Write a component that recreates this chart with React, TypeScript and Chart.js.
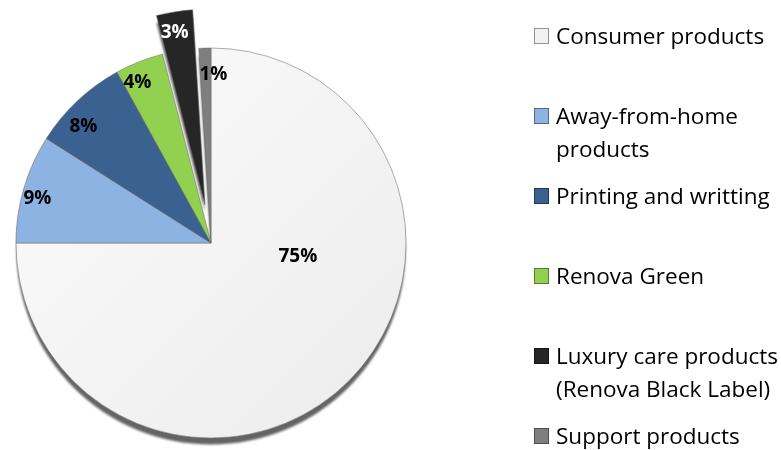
import React, { useEffect, useRef } from "react";
import { Chart, registerables } from "chart.js";

Chart.register(...registerables);

// ---- data ----
const categories = [
  "Consumer products",
  "Away-from-home products",
  "Printing and writting",
  "Renova Green",
  "Luxury care products (Renova Black Label)",
  "Support products",
];
const legendLines = [
  ["Consumer products"],
  ["Away-from-home", "products"],
  ["Printing and writting"],
  ["Renova Green"],
  ["Luxury care products", "(Renova Black Label)"],
  ["Support products"],
];
const shares = [75, 9, 8, 4, 3, 1];
const percentLabels = ["75%", "9%", "8%", "4%", "3%", "1%"];

// ---- style ----
const colors = ["#f2f2f2", "#8db3e2", "#3b6191", "#92d050", "#262626", "#7f7f7f"];
const labelColors = ["#000", "#000", "#000", "#000", "#fff", "#000"];
const labelRadius = [0.45, 0.92, 0.89, 0.91, 0.9, 0.87];
const labelAngleShift = [-37, -1.6, -4.1, -2.9, -0.9, 2.6];
const EXPLODE_INDEX = 4;
const EXPLODE_DIST = 39;
const SHADOW_DY = 7;
const LEGEND_X = 534;
const LEGEND_TOP = 28;
const LEGEND_STEP = 80;
const LEGEND_LINE = 33;
const FONT = "'Open Sans', 'Noto Sans', sans-serif";

const pieExtras = {
  id: "pieExtras",
  afterDatasetUpdate(chart: any, args: any) {
    const el: any = args.meta.data[EXPLODE_INDEX];
    if (!el) return;
    const mid = (el.startAngle + el.endAngle) / 2;
    el.x += Math.cos(mid) * EXPLODE_DIST;
    el.y += Math.sin(mid) * EXPLODE_DIST;
  },
  beforeDatasetsDraw(chart: any) {
    const ctx = chart.ctx;
    const meta = chart.getDatasetMeta(0);
    ctx.save();
    ctx.fillStyle = "rgba(100,100,100,1)";
    ctx.filter = "blur(0.8px)";
    meta.data.forEach((el: any) => {
      ctx.beginPath();
      ctx.moveTo(el.x, el.y + SHADOW_DY);
      ctx.arc(el.x, el.y + SHADOW_DY, el.outerRadius - 0.5, el.startAngle, el.endAngle);
      ctx.closePath();
      ctx.fill();
    });
    ctx.restore();
  },
  afterDraw(chart: any) {
    const ctx = chart.ctx;
    const meta = chart.getDatasetMeta(0);
    ctx.save();
    // percentage labels
    ctx.font = `bold 19px ${FONT}`;
    ctx.textAlign = "center";
    ctx.textBaseline = "middle";
    meta.data.forEach((el: any, i: number) => {
      const mid = (el.startAngle + el.endAngle) / 2 + (labelAngleShift[i] * Math.PI) / 180;
      const r = el.outerRadius * labelRadius[i];
      ctx.fillStyle = labelColors[i];
      ctx.fillText(percentLabels[i], el.x + Math.cos(mid) * r, el.y + Math.sin(mid) * r + 1);
    });
    // legend
    ctx.font = `22.5px ${FONT}`;
    ctx.textAlign = "left";
    ctx.textBaseline = "alphabetic";
    legendLines.forEach((lines, i) => {
      const top = LEGEND_TOP + i * LEGEND_STEP;
      ctx.fillStyle = colors[i];
      ctx.fillRect(LEGEND_X, top, 15, 16);
      ctx.strokeStyle = "rgba(0,0,0,0.4)";
      ctx.lineWidth = 1;
      ctx.strokeRect(LEGEND_X + 0.5, top + 0.5, 14, 15);
      ctx.fillStyle = "#000";
      lines.forEach((t, j) => {
        ctx.fillText(t, LEGEND_X + 22, top + 16 + j * LEGEND_LINE);
      });
    });
    ctx.restore();
  },
};

export default function App() {
  const ref = useRef<HTMLCanvasElement | null>(null);
  useEffect(() => {
    if (!ref.current) return;
    const chart = new Chart(ref.current, {
      type: "pie",
      data: {
        labels: categories,
        datasets: [
          {
            data: shares,
            backgroundColor: (c: any) => {
              if (c.dataIndex === 0 && c.chart.ctx) {
                const g = c.chart.ctx.createLinearGradient(20, 60, 400, 440);
                g.addColorStop(0, "#fbfbfb");
                g.addColorStop(1, "#ececec");
                return g;
              }
              return colors[c.dataIndex];
            },
            borderColor: "rgba(110,110,110,0.55)",
            borderWidth: 1,
            radius: 195,
          } as any,
        ],
      },
      options: {
        responsive: false,
        animation: false,
        events: [],
        layout: { padding: { left: 0, right: 359, top: 36, bottom: 0 } },
        plugins: {
          legend: { display: false },
          tooltip: { enabled: false },
        },
      },
      plugins: [pieExtras],
    });
    return () => chart.destroy();
  }, []);
  return (
    <div style={{ position: "absolute", left: 0, top: 0, width: 781, height: 450, background: "#fff" }}>
      <canvas ref={ref} width={781} height={450} />
    </div>
  );
}
